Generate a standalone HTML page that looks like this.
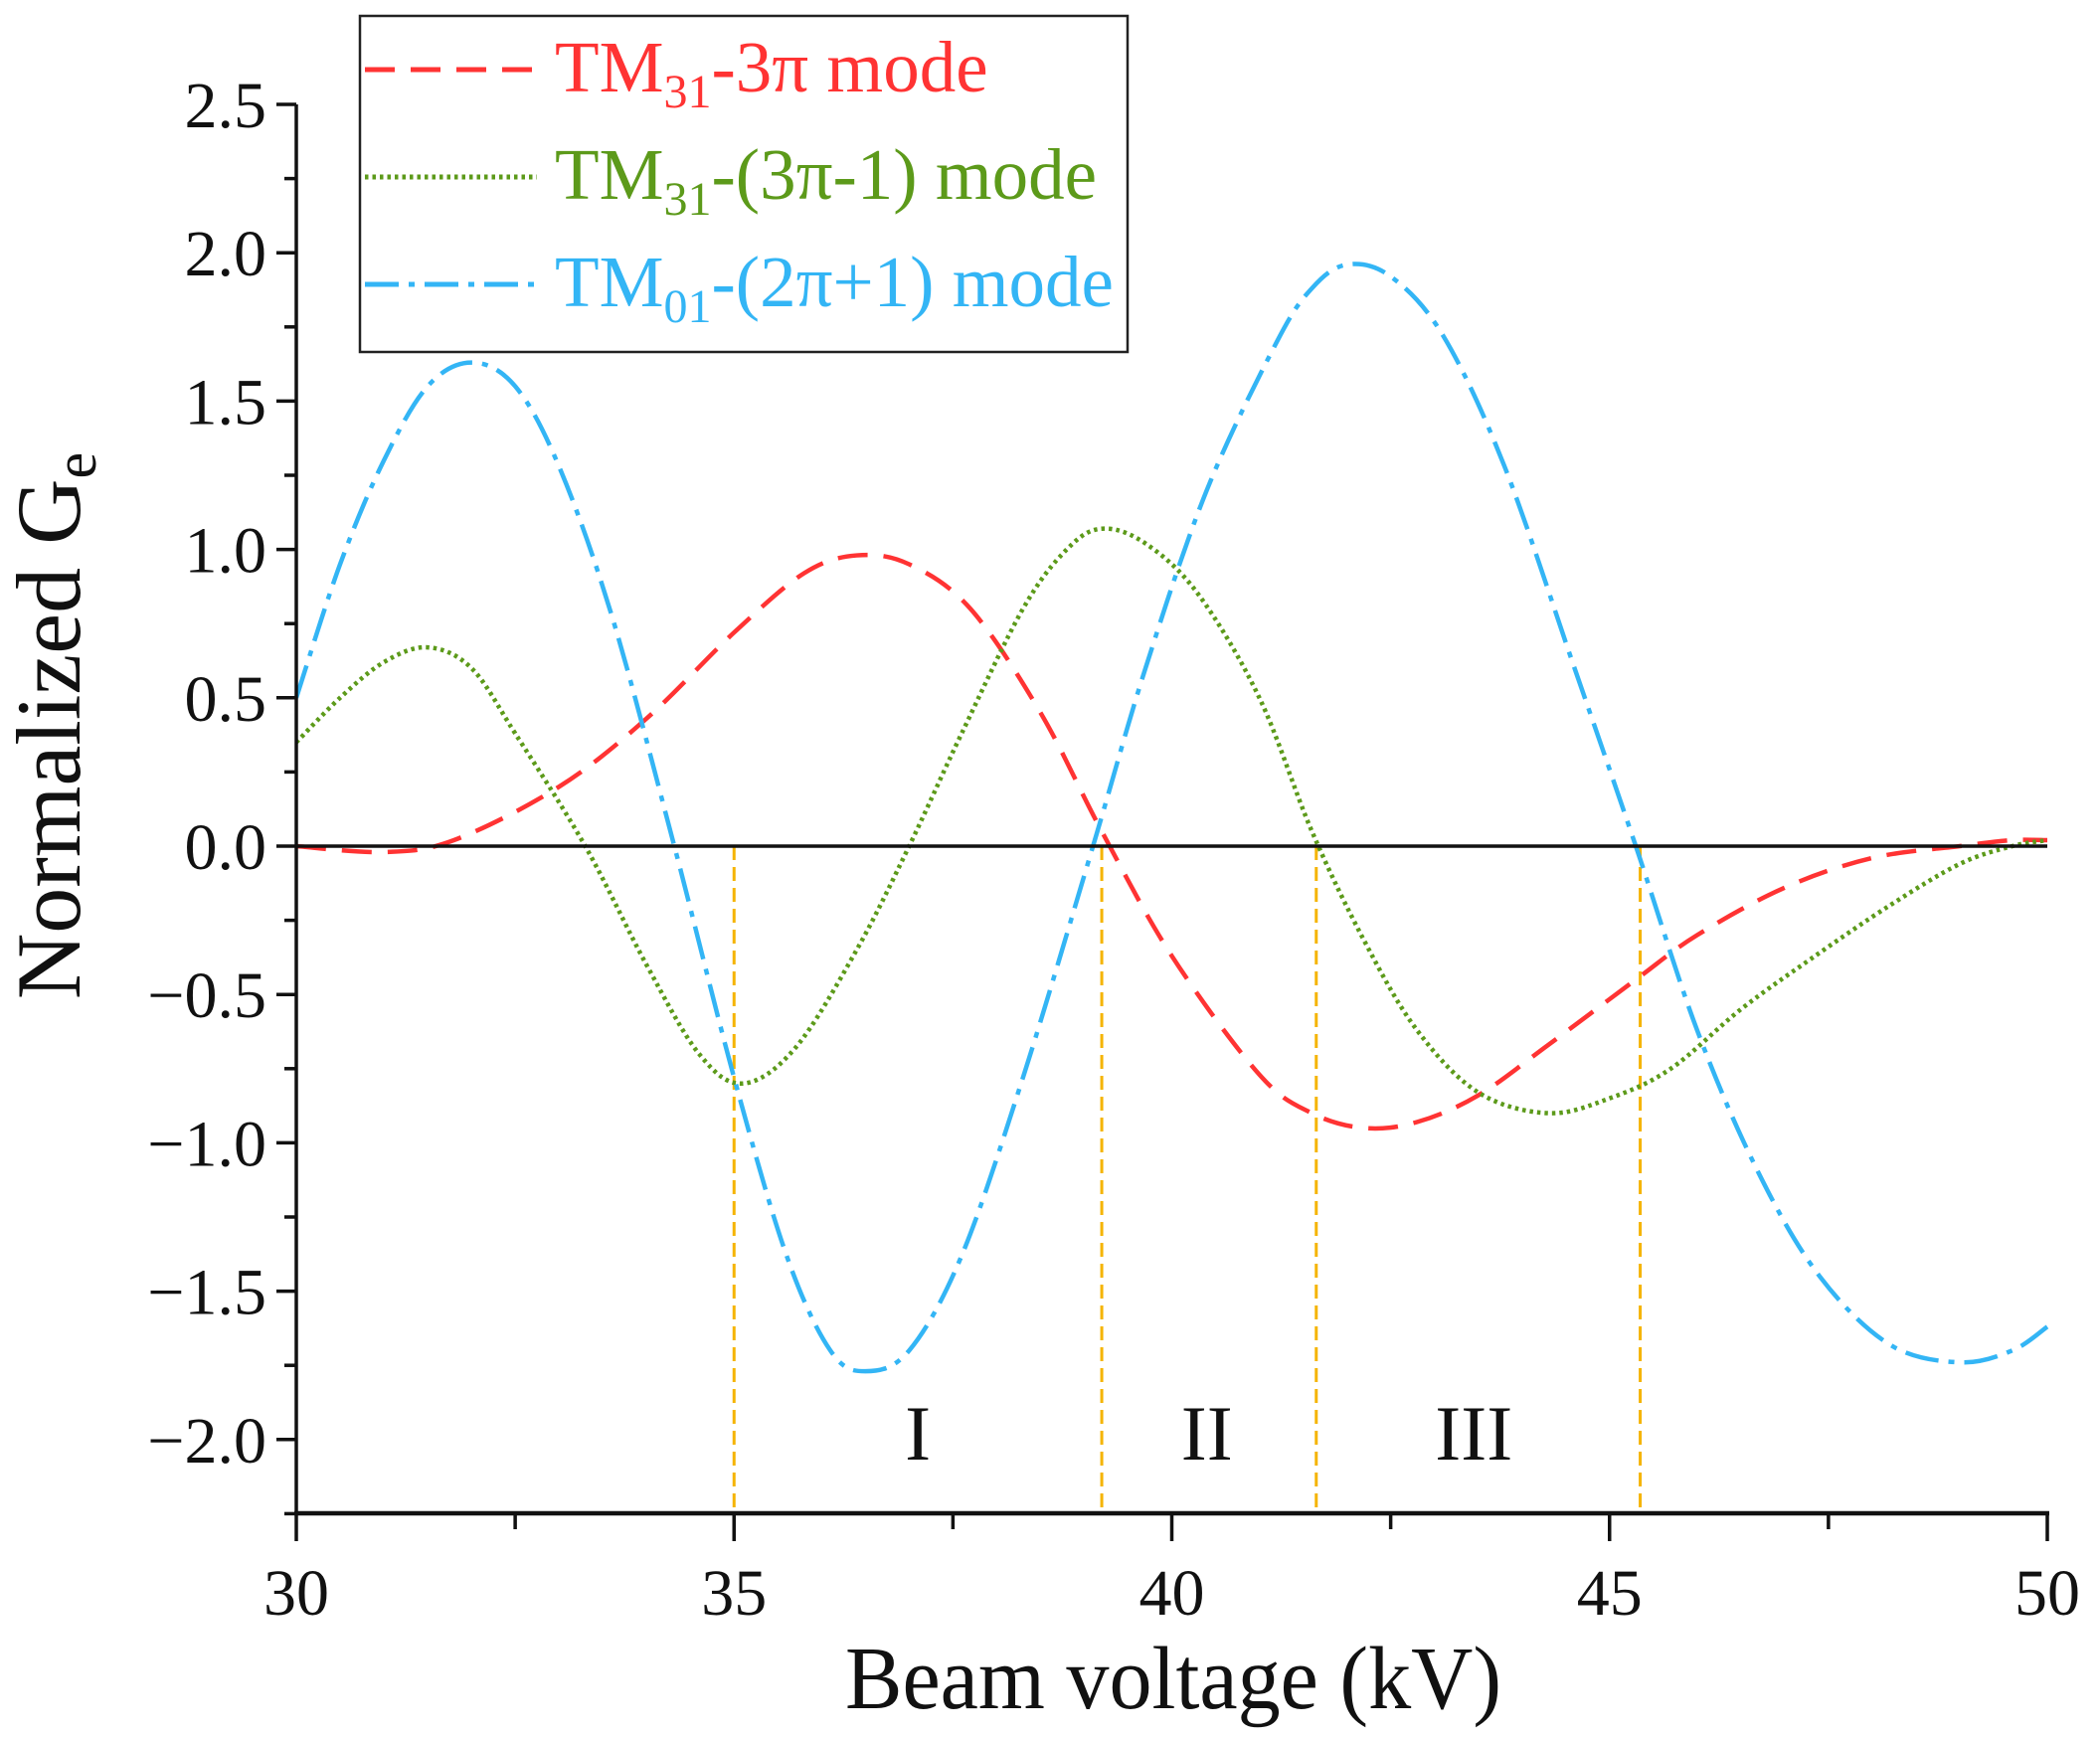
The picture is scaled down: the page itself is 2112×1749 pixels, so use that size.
<!DOCTYPE html>
<html><head><meta charset="utf-8">
<style>
html,body{margin:0;padding:0;background:#fff;}
svg{display:block;font-family:"Liberation Serif",serif;}
</style></head>
<body>
<svg id="s" width="2112" height="1749" viewBox="0 0 2112 1749" xmlns="http://www.w3.org/2000/svg">
<rect width="2112" height="1749" fill="#fff"/>
<g id="grid"></g>
<g id="curves"></g>
<!-- legend -->
<rect x="362" y="16" width="772" height="338" fill="#fff" stroke="#222" stroke-width="2.5"/>
<line x1="367" y1="70" x2="540" y2="70" stroke="#ff3333" stroke-width="5" stroke-dasharray="30,16"/>
<line x1="367" y1="178" x2="540" y2="178" stroke="#5c9a1a" stroke-width="5" stroke-dasharray="3.5,4"/>
<line x1="367" y1="286" x2="540" y2="286" stroke="#33b5f5" stroke-width="5" stroke-dasharray="34,10,6,10"/>
<text x="558" y="92" font-size="73" fill="#ff3333">TM<tspan font-size="48" dy="16">31</tspan><tspan dy="-16">-3π mode</tspan></text>
<text x="558" y="200" font-size="73" fill="#5c9a1a">TM<tspan font-size="48" dy="16">31</tspan><tspan dy="-16">-(3π-1) mode</tspan></text>
<text x="558" y="308" font-size="73" fill="#33b5f5">TM<tspan font-size="48" dy="16">01</tspan><tspan dy="-16">-(2π+1) mode</tspan></text>
<text x="1180" y="1718" font-size="90" text-anchor="middle" fill="#111" textLength="660" lengthAdjust="spacingAndGlyphs">Beam voltage (kV)</text>
<text transform="translate(80,730) rotate(-90)" font-size="92" text-anchor="middle" fill="#111">Normalized G<tspan font-size="60" dy="16">e</tspan></text>
</svg>
<script>
var NS="http://www.w3.org/2000/svg";
function X(v){return 298+(v-30)*(2059-298)/20;}
function Y(v){return 851-v*298.4;}
function el(p,tag,a,txt){var e=document.createElementNS(NS,tag);for(var k in a)e.setAttribute(k,a[k]);if(txt!==undefined)e.textContent=txt;p.appendChild(e);return e;}
var g=document.getElementById('grid'),c=document.getElementById('curves');
[35,39.2,41.65,45.35].forEach(function(v){el(g,'line',{x1:X(v),y1:851,x2:X(v),y2:1522,stroke:'#f5b400','stroke-width':3,'stroke-dasharray':'14,7'});});
[['I',37.1],['II',40.4],['III',43.45]].forEach(function(r){el(g,'text',{x:X(r[1]),y:1468,'font-size':78,'text-anchor':'middle',fill:'#111'},r[0]);});
function spline(pts){var P=pts.map(function(p){return [X(p[0]),Y(p[1])];});
 var d='M'+P[0][0]+','+P[0][1];
 for(var i=0;i<P.length-1;i++){var p0=P[i-1]||P[i],p1=P[i],p2=P[i+1],p3=P[i+2]||P[i+1];
  var c1=[p1[0]+(p2[0]-p0[0])/6,p1[1]+(p2[1]-p0[1])/6],c2=[p2[0]-(p3[0]-p1[0])/6,p2[1]-(p3[1]-p1[1])/6];
  d+=' C'+c1[0]+','+c1[1]+' '+c2[0]+','+c2[1]+' '+p2[0]+','+p2[1];}
 return d;}
var red=[[30,0],[31,-0.02],[31.8,0.02],[33,0.2],[34,0.43],[35,0.72],[35.8,0.92],[36.4,0.98],[37,0.95],[37.7,0.8],[38.5,0.45],[39.2,0.05],[40,-0.37],[41,-0.77],[41.6,-0.9],[42.2,-0.95],[42.8,-0.93],[43.5,-0.84],[44.3,-0.67],[45.3,-0.45],[46,-0.3],[47,-0.14],[48,-0.04],[49,0],[49.6,0.02],[50,0.02]];
var green=[[30,0.35],[30.5,0.5],[31,0.62],[31.5,0.67],[32,0.6],[32.5,0.38],[33.3,0],[34,-0.4],[34.6,-0.7],[35.1,-0.8],[35.7,-0.68],[36.4,-0.35],[37,0],[37.6,0.38],[38.3,0.8],[38.8,1.0],[39.2,1.07],[39.7,1.02],[40.3,0.85],[41,0.5],[41.6,0.05],[42.2,-0.32],[42.8,-0.62],[43.5,-0.83],[44.3,-0.9],[45,-0.85],[45.7,-0.75],[46.5,-0.55],[47.3,-0.38],[48.2,-0.2],[49,-0.06],[49.6,0],[50,0.02]];
var blue=[[30,0.5],[30.5,0.95],[31,1.3],[31.5,1.55],[32,1.63],[32.5,1.55],[33,1.28],[33.6,0.78],[34.3,0.02],[35,-0.78],[35.6,-1.38],[36.1,-1.7],[36.5,-1.77],[37,-1.7],[37.6,-1.38],[38.3,-0.78],[39.1,0],[39.7,0.6],[40.4,1.2],[41.2,1.7],[41.6,1.88],[42,1.96],[42.5,1.92],[43.1,1.72],[43.8,1.28],[44.6,0.6],[45.3,0],[46,-0.62],[46.7,-1.1],[47.4,-1.45],[48.2,-1.68],[49,-1.74],[49.6,-1.7],[50,-1.62]];
el(c,'path',{d:spline(red),fill:'none',stroke:'#ff3333','stroke-width':4.5,'stroke-dasharray':'30,16'});
el(c,'path',{d:spline(green),fill:'none',stroke:'#5c9a1a','stroke-width':4.5,'stroke-dasharray':'3.5,4'});
el(c,'path',{d:spline(blue),fill:'none',stroke:'#33b5f5','stroke-width':4.5,'stroke-dasharray':'34,10,6,10'});
el(c,'line',{x1:298,y1:851,x2:2059,y2:851,stroke:'#111','stroke-width':3.5});
el(c,'line',{x1:298,y1:105,x2:298,y2:1523,stroke:'#111','stroke-width':3.5});
el(c,'line',{x1:296,y1:1522,x2:2061,y2:1522,stroke:'#111','stroke-width':4.5});
for(var v=-2.25;v<=2.501;v+=0.25){var maj=Math.abs(v*2-Math.round(v*2))<1e-6;var y=Y(v);
 el(c,'line',{x1:maj?278:286,y1:y,x2:298,y2:y,stroke:'#111','stroke-width':3.5});
 if(maj){var t=v.toFixed(1);if(v<-0.001)t='\u2212'+(-v).toFixed(1);el(c,'text',{x:268,y:y+23,'font-size':66,'text-anchor':'end',fill:'#111'},t);}}
for(var x=30;x<=50;x+=2.5){var maj=x%5===0;var xx=X(x);
 el(c,'line',{x1:xx,y1:1522,x2:xx,y2:maj?1550:1538,stroke:'#111','stroke-width':3.5});
 if(maj)el(c,'text',{x:xx,y:1624,'font-size':66,'text-anchor':'middle',fill:'#111'},String(x));}
</script>
</body></html>
